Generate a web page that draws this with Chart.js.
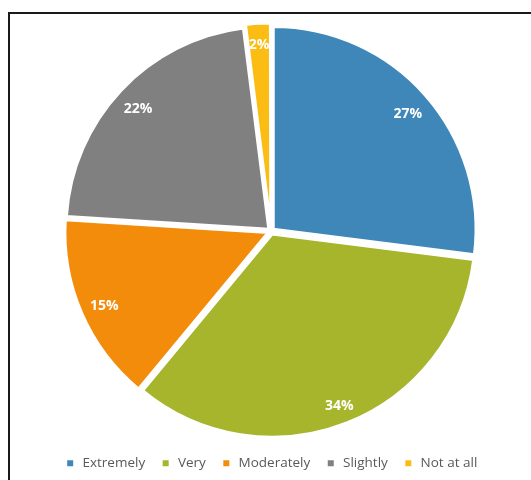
<!DOCTYPE html>
<html>
<head>
<meta charset="utf-8">
<script src="https://cdn.jsdelivr.net/npm/chart.js@4.4.1/dist/chart.umd.min.js"></script>
<style>
  html, body { margin: 0; padding: 0; background: #fff; }
  #wrap { position: relative; width: 531px; height: 480px; overflow: hidden; }
  #frame { position: absolute; left: 8px; top: 12px; width: 600px; height: 600px; border: 2px solid #1a1a1a; box-sizing: border-box; }
  #grafico { position: absolute; left: 0; top: 0; }
</style>
</head>
<body>
<div id="wrap">
  <div id="frame"></div>
  <canvas id="grafico" width="531" height="480"></canvas>
</div>
<script>
const categorias = ['Extremely', 'Very', 'Moderately', 'Slightly', 'Not at all'];
const percentuais = [27, 34, 15, 22, 2];
const cores = ['#3F87B9', '#A6B52B', '#F28C0A', '#808080', '#FBBD14'];

const DESLOCAMENTO = 12; // offset das fatias (o Chart.js translada offset/4)

// escreve o percentual dentro de cada fatia, encostado na borda externa
const rotulosInternos = {
  id: 'rotulosInternos',
  afterDatasetsDraw(chart) {
    const ctx = chart.ctx;
    const meta = chart.getDatasetMeta(0);
    ctx.save();
    ctx.font = 'bold 14px "Open Sans"';
    ctx.fillStyle = '#ffffff';
    ctx.textAlign = 'center';
    ctx.textBaseline = 'middle';
    meta.data.forEach((arc, i) => {
      const p = arc.getProps(['x', 'y', 'startAngle', 'endAngle', 'outerRadius'], true);
      const meio = (p.startAngle + p.endAngle) / 2;
      const cx = Math.cos(meio), cy = Math.sin(meio);
      const texto = percentuais[i] + '%';
      const w = ctx.measureText(texto).width / 2;
      const h = 7;
      const limite = p.outerRadius - 8;
      let d = limite;
      while (d > 0) {
        const px = d * cx, py = d * cy;
        const ok = [[w, h], [-w, h], [w, -h], [-w, -h]].every(([a, b]) =>
          Math.hypot(px + a, py + b) <= limite);
        if (ok) break;
        d -= 0.5;
      }
      d += DESLOCAMENTO / 4;
      ctx.fillText(texto, p.x + d * cx, p.y + d * cy + 3);
    });
    ctx.restore();
  }
};

const legendaPadrao = Chart.overrides.pie.plugins.legend.labels.generateLabels;

const graficoCtx = document.getElementById('grafico').getContext('2d');
new Chart(graficoCtx, {
  type: 'pie',
  data: {
    labels: categorias,
    datasets: [{
      data: percentuais,
      backgroundColor: cores,
      borderColor: '#ffffff',
      borderWidth: 3,
      offset: DESLOCAMENTO
    }]
  },
  options: {
    responsive: false,
    animation: false,
    layout: { padding: { top: 21, bottom: 0, left: 11, right: 0 } },
    plugins: {
      tooltip: { enabled: false },
      legend: {
        position: 'bottom',
        labels: {
          usePointStyle: true,
          pointStyle: 'rect',
          boxWidth: 11,
          boxHeight: 6,
          padding: 15,
          color: '#595959',
          font: { family: '"Open Sans"', size: 13.5 },
          generateLabels(chart) {
            return legendaPadrao(chart).map(item => ({ ...item, lineWidth: 0, strokeStyle: item.fillStyle }));
          }
        }
      }
    }
  },
  plugins: [rotulosInternos]
});
</script>
</body>
</html>
